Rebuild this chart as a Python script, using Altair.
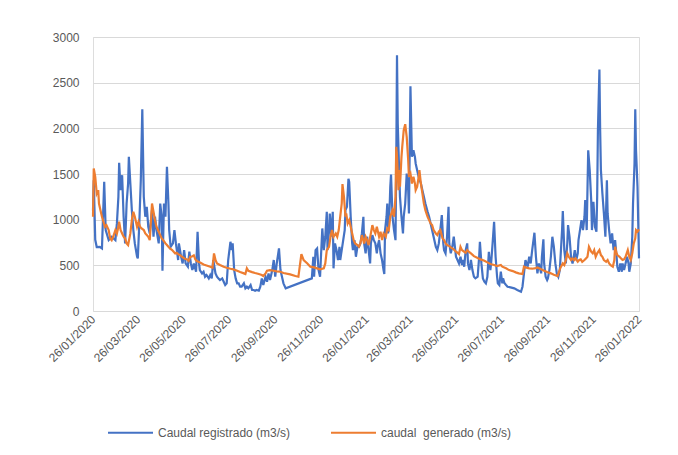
import altair as alt
import pandas as pd

# Day offsets from 26/01/2020 and values (m3/s)
blue_days = [0, 1, 3, 5, 9, 12, 15, 17, 21, 25, 30, 32, 34, 35, 37, 39, 41, 43, 45, 47, 48, 50, 52, 54, 56, 59, 60, 62, 64, 66, 68, 70, 72, 74, 76, 79, 81, 83, 85, 88, 90, 92, 93, 95, 97, 99, 101, 102, 104, 107, 109, 111, 114, 115, 118, 120, 122, 124, 127, 129, 131, 133, 135, 138, 140, 142, 143, 146, 148, 150, 152, 155, 157, 159, 161, 164, 166, 168, 170, 173, 175, 177, 179, 181, 184, 186, 187, 189, 191, 193, 195, 197, 199, 202, 204, 206, 208, 211, 213, 215, 217, 219, 222, 224, 226, 228, 231, 233, 235, 237, 240, 242, 244, 246, 249, 251,
             253, 255, 258, 293, 295, 296, 298, 300, 302, 304, 305, 307, 309, 311, 313, 314, 316, 317, 319, 321, 322, 324, 326, 328, 330, 331, 333, 335, 337, 338, 340, 342, 343, 345, 347, 348, 350, 352, 354, 356, 358, 360, 362, 363, 365, 367, 369, 371, 372, 374, 376, 378, 380, 381, 383, 385, 387, 389, 390, 391, 393, 394, 395, 397, 398, 399, 401, 403, 405, 406, 407, 408, 410, 411, 413, 415, 416, 418, 420, 422, 423, 425, 427, 429, 431, 432, 434, 436, 439, 441, 443, 445, 448, 450, 452, 454, 456, 459, 461, 463, 465, 467, 469, 470, 472, 474, 476, 477, 479, 481, 483, 485, 486, 488, 490, 492, 494, 495, 497, 499, 501, 502, 504, 506,
             508, 510, 512, 515, 517, 518, 520, 522, 524, 526, 528, 530, 532, 533, 535, 537, 539, 541, 542, 544, 546, 548, 549, 551, 553, 555, 559, 564, 568, 573, 575, 577, 579, 582, 584, 586, 588, 591, 593, 595, 597, 600, 601, 603, 604, 606, 608, 609, 611, 613, 615, 617, 619, 621, 623, 625, 626, 628, 629, 631, 633, 635, 636, 638, 640, 642, 643, 645, 647, 649, 650, 652, 654, 656, 658, 659, 661, 663, 665, 667, 668, 670, 672, 674, 675, 676, 678, 679, 680, 682, 684, 686, 688, 689, 691, 693, 695, 697, 699, 701, 702, 704, 706, 708, 709, 711, 713, 715, 717, 718, 720, 722, 723, 725, 726, 727, 729, 730, 731]
blue_vals = [1100, 1430, 780, 700, 703, 685, 1414, 886, 776, 813, 776, 959, 1250, 1622, 1323, 1487, 1032, 740, 1177, 1396, 1688, 1396, 1104, 886, 740, 594, 576, 959, 1432, 2209, 1250, 1032, 1141, 922, 849, 1104, 813, 1032, 886, 740, 1177, 1032, 441, 1177, 1032, 1578, 1177, 886, 703, 740, 886, 740, 558, 740, 594, 521, 667, 521, 485, 649, 521, 448, 521, 430, 868, 521, 448, 412, 430, 375, 394, 357, 394, 357, 558, 412, 375, 357, 339, 357, 321, 284, 303, 558, 758, 667, 740, 448, 357, 303, 303, 266, 266, 303, 248, 266, 248, 284, 230, 230, 222, 230, 222, 266, 357, 284, 375, 321, 412, 339, 448, 558, 375, 521, 685, 448,
             375, 303, 248, 357, 594, 375, 667, 685, 448, 375, 558, 904, 667, 813, 1086, 667, 886, 1068, 813, 1086, 467, 740, 667, 558, 703, 558, 667, 776, 886, 1104, 1141, 1447, 1414, 1032, 740, 667, 776, 594, 703, 703, 740, 849, 1032, 740, 631, 813, 667, 521, 740, 831, 776, 740, 631, 703, 776, 631, 558, 448, 405, 886, 1032, 1177, 849, 1104, 1360, 1494, 1032, 886, 776, 1615, 2800, 2052, 1505, 1250, 1032, 849, 1032, 1177, 1505, 1323, 1068, 2460, 1688, 1760, 1688, 1615, 1542, 1469, 1396, 1323, 1250, 1177, 1086, 1032, 959, 886, 813, 703, 667, 740, 886, 1050, 740, 667, 631, 813, 1141, 740, 631, 703, 813, 667, 594, 558, 521, 594, 503, 558, 485, 667, 740, 521, 448, 558,
             448, 375, 357, 375, 594, 758, 521, 357, 321, 303, 375, 649, 448, 521, 740, 977, 594, 375, 303, 284, 430, 303, 357, 303, 284, 266, 259, 248, 230, 211, 266, 412, 558, 485, 594, 521, 667, 857, 594, 412, 521, 412, 594, 784, 521, 375, 339, 357, 448, 594, 813, 703, 521, 412, 375, 448, 594, 886, 1094, 667, 521, 740, 940, 813, 594, 521, 558, 667, 558, 631, 776, 886, 995, 886, 1032, 1214, 886, 1760, 1542, 1214, 886, 1196, 922, 868, 1250, 1979, 2643, 1979, 1542, 1287, 1068, 813, 1432, 1068, 886, 740, 849, 667, 776, 594, 485, 430, 521, 430, 521, 448, 521, 594, 521, 430, 521, 813, 1177, 1615, 2209, 1760, 1360, 959, 576]

orange_days = [0, 1, 3, 5, 7, 8, 10, 12, 14, 16, 18, 21, 23, 25, 27, 30, 32, 34, 35, 37, 39, 41, 43, 45, 47, 50, 52, 54, 56, 59, 61, 63, 65, 68, 70, 72, 74, 76, 79, 81, 83, 85, 88, 90, 92, 94, 97, 99, 101, 103, 106, 108, 110, 112, 114, 117, 119, 121, 123, 126, 128, 130, 132, 135, 137, 139, 144, 148, 152, 157, 160, 162, 164, 166, 170, 175, 179, 184, 188, 193, 197, 202, 204, 206, 208, 213, 217, 222, 226, 228, 231, 233, 237, 242, 246, 251,
               255, 264, 271, 275, 279, 282, 287, 291, 296, 300, 304, 309, 311, 313, 316, 318, 320, 322, 325, 327, 329, 331, 333, 334, 336, 338, 339, 341, 343, 345, 347, 349, 351, 354, 356, 358, 360, 363, 365, 367, 369, 372, 374, 376, 378, 380, 383, 385, 387, 389, 392, 394, 396, 398, 401, 403, 405, 406, 407, 409, 410, 411, 413, 414, 416, 418, 420, 422, 423, 425, 427, 429, 431, 432, 434, 436, 437, 439, 441, 443, 445, 448, 450, 452, 454, 456, 459, 461, 463, 465, 468, 470, 472, 474, 477, 479, 481, 483, 486, 488, 490, 492, 494, 497, 499, 501, 503, 506,
               510, 515, 519, 524, 528, 532, 537, 541, 546, 548, 553, 557, 562, 566, 570, 575, 577, 579, 584, 588, 593, 595, 600, 604, 608, 613, 617, 622, 624, 626, 629, 631, 633, 635, 637, 640, 642, 644, 646, 649, 651, 653, 655, 658, 660, 662, 664, 667, 669, 671, 673, 675, 678, 680, 682, 684, 687, 689, 691, 693, 696, 698, 699, 701, 702, 705, 707, 709, 711, 713, 716, 718, 720, 722, 724, 726, 727, 729, 731]
orange_vals = [1032, 1560, 1469, 1287, 1323, 1177, 1104, 1032, 977, 922, 940, 886, 795, 776, 813, 886, 849, 922, 977, 886, 849, 813, 795, 740, 722, 849, 995, 1086, 1032, 922, 977, 922, 904, 886, 849, 831, 813, 776, 1177, 1086, 995, 922, 868, 831, 795, 776, 740, 722, 703, 685, 667, 649, 631, 638, 623, 609, 594, 583, 572, 565, 550, 594, 594, 609, 565, 547, 529, 510, 499, 485, 474, 631, 558, 521, 503, 485, 474, 463, 456, 441, 426, 412, 405, 467, 441, 426, 416, 405, 394, 383, 412, 441, 448, 441, 434, 430,
               416, 401, 383, 375, 623, 558, 521, 485, 477, 467, 456, 467, 521, 667, 703, 813, 886, 813, 849, 813, 886, 1032, 1177, 1389, 1250, 1032, 1068, 959, 995, 922, 849, 776, 740, 722, 703, 740, 831, 740, 813, 776, 722, 849, 940, 886, 849, 922, 813, 868, 776, 849, 813, 904, 886, 1032, 1104, 1032, 1250, 1797, 1688, 1323, 1542, 1360, 1688, 1797, 1979, 2045, 1906, 1651, 1469, 1505, 1396, 1469, 1396, 1323, 1360, 1469, 1542, 1396, 1287, 1177, 1104, 1032, 995, 959, 940, 886, 849, 831, 868, 886, 795, 776, 740, 722, 711, 696, 685, 674, 649, 638, 623, 703, 667, 649, 638, 667, 649, 631,
               601, 580, 565, 550, 532, 514, 503, 492, 503, 485, 467, 448, 437, 423, 412, 405, 485, 477, 467, 463, 470, 477, 456, 441, 426, 412, 397, 383, 430, 477, 521, 503, 558, 631, 594, 558, 576, 558, 576, 539, 558, 565, 539, 558, 576, 594, 703, 649, 631, 667, 594, 631, 667, 612, 594, 558, 539, 558, 521, 503, 485, 558, 703, 631, 612, 594, 576, 558, 565, 594, 667, 594, 558, 631, 740, 795, 886, 868, 893]

series_names = ["Caudal registrado (m3/s)", "caudal\u00a0 generado (m3/s)"]
series_colors = ["#4472C4", "#ED7D31"]
tick_dates = ["2020-01-26", "2020-03-26", "2020-05-26", "2020-07-26", "2020-09-26", "2020-11-26",
              "2021-01-26", "2021-03-26", "2021-05-26", "2021-07-26", "2021-09-26", "2021-11-26", "2022-01-26"]
y_ticks = [0, 500, 1000, 1500, 2000, 2500, 3000]

start = pd.Timestamp("2020-01-26")

def make_df(days, vals, name):
    d = pd.DataFrame({"day": days, "valor": vals})
    d["fecha"] = (start + pd.to_timedelta(d["day"], unit="D")).dt.strftime("%Y-%m-%d")
    d["serie"] = name
    return d

df_blue = make_df(blue_days, blue_vals, series_names[0])
df_orange = make_df(orange_days, orange_vals, series_names[1])

def dt(s):
    y, m, d = map(int, s.split("-"))
    return alt.DateTime(year=y, month=m, date=d, utc=True)

x_enc = alt.X("fecha:T", title=None,
              scale=alt.Scale(type="utc", domain=[dt(tick_dates[0]), dt(tick_dates[-1])]),
              axis=alt.Axis(values=[dt(s) for s in tick_dates],
                            labelExpr="utcFormat(datum.value, '%d/%m/%Y')",
                            labelAngle=315, labelAlign="right", labelBaseline="middle",
                            labelPadding=6, grid=False, domain=False, ticks=False,
                            labelFontSize=12, labelColor="#595959", labelOverlap=False))
y_enc = alt.Y("valor:Q", title=None,
              scale=alt.Scale(domain=[0, 3000]),
              axis=alt.Axis(values=y_ticks, format="d", grid=True, gridColor="#d9d9d9", gridWidth=1,
                            domain=False, ticks=False, labelPadding=14, labelFontSize=12,
                            labelColor="#595959"))
color_enc = alt.Color("serie:N", scale=alt.Scale(domain=series_names, range=series_colors),
                      legend=alt.Legend(title=None, orient="none", direction="horizontal",
                                        legendX=14, legendY=372, symbolType="stroke",
                                        symbolSize=2025, symbolStrokeWidth=2, labelFontSize=12,
                                        labelColor="#595959", columnPadding=36, labelOffset=4))

blue = alt.Chart(df_blue).mark_line(strokeWidth=2.2).encode(x=x_enc, y=y_enc, color=color_enc)
orange = alt.Chart(df_orange).mark_line(strokeWidth=2.2).encode(x=x_enc, y=y_enc, color=color_enc)

chart = alt.layer(blue, orange).properties(
    width=546, height=274,
    autosize=alt.AutoSizeParams(type="none"),
    padding={"left": 85, "top": 29, "right": 30, "bottom": 130},
).configure_view(stroke=None).configure(font="Liberation Sans")

chart.save("out.html", embed_options={"renderer": "svg", "actions": False})
